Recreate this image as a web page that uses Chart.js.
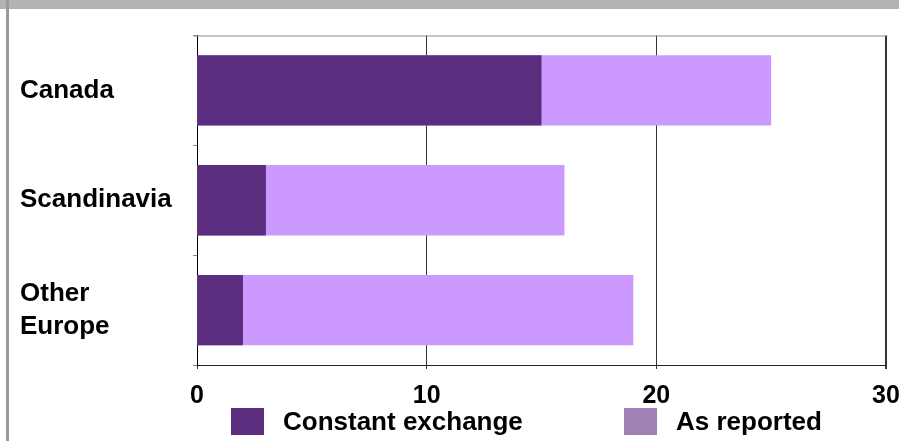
<!DOCTYPE html>
<html>
<head>
<meta charset="utf-8">
<title>Growth by region</title>
<script src="https://cdn.jsdelivr.net/npm/chart.js@4"></script>
<style>
  html, body { margin: 0; padding: 0; background: #fff; }
  #wrap { position: relative; width: 899px; height: 441px; }
</style>
</head>
<body>
<div id="wrap">
  <canvas id="regionChart" width="899" height="441"></canvas>
</div>
<script>
// Regiões e valores (%)
const categories = ['Canada', 'Scandinavia', ['Other', 'Europe']];
const constantExchange = [15, 3, 2];
const asReported = [25, 16, 19];
const xTicks = [0, 10, 20, 30];

const DARK = '#5b2d7e';
const LIGHT = '#cc99ff';
const LIGHT_KEY = '#a080b5';
const FONT = "'Liberation Sans', Arial, sans-serif";

// moldura cinza (faixa no topo + linha à esquerda)
const framePlugin = {
  id: 'frame',
  beforeDraw(chart) {
    const ctx = chart.ctx;
    ctx.save();
    ctx.fillStyle = '#fff';
    ctx.fillRect(0, 0, chart.width, chart.height);
    ctx.fillStyle = '#b3b3b3';
    ctx.fillRect(0, 0, chart.width, 9);
    ctx.fillStyle = '#9a9a9a';
    ctx.fillRect(6, 0, 3, chart.height);
    ctx.restore();
  },
  afterDraw(chart) {
    // linha superior da área do gráfico
    const { left, right, top } = chart.chartArea;
    const ctx = chart.ctx;
    ctx.save();
    ctx.strokeStyle = '#8c8c8c';
    ctx.lineWidth = 1;
    ctx.beginPath();
    ctx.moveTo(left - 4, top + 0.5);
    ctx.lineTo(right, top + 0.5);
    ctx.stroke();
    ctx.restore();
  }
};

// legenda desenhada abaixo do eixo
const keyPlugin = {
  id: 'keyLegend',
  afterDraw(chart) {
    const ctx = chart.ctx;
    const left = chart.chartArea.left;
    const items = [
      { text: 'Constant exchange', color: DARK, x: left + 34 },
      { text: 'As reported', color: LIGHT_KEY, x: left + 427 }
    ];
    ctx.save();
    ctx.font = 'bold 26px ' + FONT;
    ctx.textBaseline = 'middle';
    items.forEach(it => {
      ctx.fillStyle = it.color;
      ctx.fillRect(it.x, 408, 33, 27);
      ctx.fillStyle = '#000';
      ctx.fillText(it.text, it.x + 52, 423);
    });
    ctx.restore();
  }
};

new Chart(document.getElementById('regionChart').getContext('2d'), {
  type: 'bar',
  data: {
    labels: categories,
    datasets: [
      { label: 'Constant exchange', data: constantExchange, backgroundColor: DARK, borderWidth: 0 },
      { label: 'As reported', data: asReported, backgroundColor: LIGHT, borderWidth: 0 }
    ]
  },
  options: {
    indexAxis: 'y',
    responsive: false,
    animation: false,
    categoryPercentage: 0.64,
    barPercentage: 1,
    layout: { padding: { top: 35, left: 20, right: 13, bottom: 18 } },
    plugins: { legend: { display: false }, tooltip: { enabled: false } },
    scales: {
      x: {
        min: 0,
        max: 30,
        afterBuildTicks: scale => { scale.ticks = xTicks.map(v => ({ value: v })); },
        afterFit: scale => { scale.paddingRight = 0; scale.paddingLeft = 0; },
        grid: {
          color: '#333',
          lineWidth: c => (c.tick && c.tick.value === 30 ? 2 : 1),
          tickLength: 4
        },
        border: { color: '#222', width: 1 },
        ticks: { color: '#000', padding: 12, font: { family: FONT, size: 25, weight: 'bold' } }
      },
      y: {
        stacked: true,
        grid: { offset: true, drawOnChartArea: false, tickLength: 4, color: '#8c8c8c' },
        border: { color: '#000', width: 1 },
        afterFit: scale => { scale.width = 177; },
        ticks: {
          color: '#000',
          crossAlign: 'far',
          font: { family: FONT, size: 26, weight: 'bold', lineHeight: 1.25 }
        }
      }
    }
  },
  plugins: [framePlugin, keyPlugin]
});
</script>
</body>
</html>
